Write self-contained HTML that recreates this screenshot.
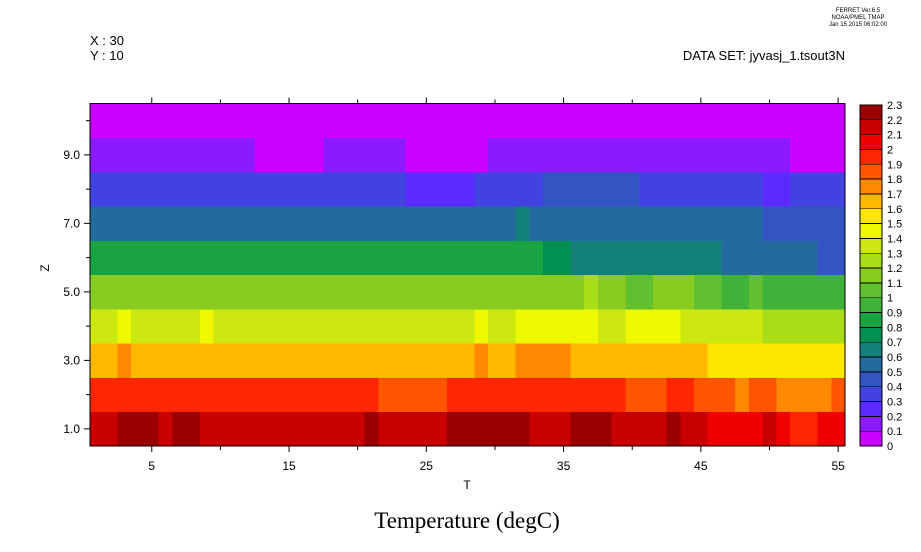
<!DOCTYPE html>
<html><head><meta charset="utf-8"><style>
html,body{margin:0;padding:0;background:#fff;}
svg{display:block;font-family:"Liberation Sans",sans-serif;}
</style></head><body>
<svg id="s" width="921" height="552" xmlns="http://www.w3.org/2000/svg">
<g id="cells" shape-rendering="crispEdges"></g>
<rect x="90" y="103.5" width="755" height="342.5" fill="none" stroke="#000" stroke-width="1"/>
<g id="ax" stroke="#000" stroke-width="1"></g>
<g id="lab" font-size="12" fill="#000"></g>
<g id="cb" shape-rendering="crispEdges"></g>
<text x="90" y="45" font-size="13">X : 30</text>
<text x="90" y="60" font-size="13">Y : 10</text>
<text x="845" y="60" font-size="13" text-anchor="end">DATA SET: jyvasj_1.tsout3N</text>
<text x="858" y="12" font-size="6" text-anchor="middle">FERRET  Ver.6.5</text>
<text x="858" y="19" font-size="6" text-anchor="middle">NOAA/PMEL TMAP</text>
<text x="858" y="26" font-size="6" text-anchor="middle">Jan 15 2015 06:02:00</text>
<text x="467" y="489" font-size="12" text-anchor="middle">T</text>
<text x="49" y="268" font-size="12" text-anchor="middle" transform="rotate(-90 49 268)">Z</text>
<text x="467" y="528" font-size="23" text-anchor="middle" font-family="Liberation Serif,serif">Temperature (degC)</text>
</svg>
<script>
const C=["#cc00ff","#8c1aff","#5a2aff","#4242e0","#3355c4","#246a9e","#14807a","#00904f","#1aa342","#40b23a","#60c030","#88cc22","#aadd18","#cce810","#eef800","#ffe600","#ffb800","#ff8800","#ff5500","#ff2600","#f00000","#c80000","#9a0000"];
const rows=[
[[2,21],[5,22],[6,21],[8,22],[20,21],[21,22],[26,21],[32,22],[35,21],[38,22],[42,21],[43,22],[45,21],[49,20],[50,21],[51,20],[53,19],[55,20]],
[[21,19],[26,18],[39,19],[42,18],[44,19],[47,18],[48,17],[50,18],[54,17],[55,18]],
[[2,16],[3,17],[28,16],[29,17],[31,16],[35,17],[45,16],[55,15]],
[[2,13],[3,14],[8,13],[9,14],[28,13],[29,14],[31,13],[37,14],[39,13],[43,14],[49,13],[55,12]],
[[36,11],[37,12],[39,11],[41,10],[44,11],[46,10],[48,9],[49,10],[55,9]],
[[33,8],[35,7],[46,6],[53,5],[55,4]],
[[31,5],[32,6],[49,5],[55,4]],
[[23,3],[28,2],[33,3],[40,4],[49,3],[51,2],[55,3]],
[[12,1],[17,0],[23,1],[29,0],[51,1],[55,0]],
[[55,0]]];
const NS="http://www.w3.org/2000/svg";
function el(p,t,a){const e=document.createElementNS(NS,t);for(const k in a)e.setAttribute(k,a[k]);p.appendChild(e);return e;}
const cells=document.getElementById("cells"),ax=document.getElementById("ax"),lab=document.getElementById("lab"),cb=document.getElementById("cb");
const x0=90,cw=755/55,yb=446,rh=342.5/10;
rows.forEach((r,ri)=>{let s=0;r.forEach(([e,c])=>{const xa=x0+s*cw,xb=x0+e*cw;el(cells,"rect",{x:xa.toFixed(2),y:(yb-(ri+1)*rh).toFixed(2),width:(xb-xa+0.3).toFixed(2),height:(rh+0.3).toFixed(2),fill:C[c]});s=e;});});
// x ticks
for(let t=5;t<=55;t+=5){const x=x0+(t-0.5)*cw;const maj=(t%10==5);const L=maj?6:4;
el(ax,"line",{x1:x,y1:446,x2:x,y2:446+L});el(ax,"line",{x1:x,y1:103.5,x2:x,y2:103.5-L});
if(maj){const tx=el(lab,"text",{x:x,y:470,"text-anchor":"middle"});tx.textContent=t;}}
for(let z=1;z<=10;z++){const y=yb-(z-0.5)*rh;const maj=z%2==1;const L=maj?6:4;
el(ax,"line",{x1:90-L,y1:y,x2:90,y2:y});
if(maj){const tx=el(lab,"text",{x:80,y:y+4,"text-anchor":"end"});tx.textContent=z.toFixed(1);}}
// colorbar
const cy0=105,cy1=446,bh=(cy1-cy0)/23;
for(let i=0;i<23;i++){el(cb,"rect",{x:860,y:(cy1-(i+1)*bh).toFixed(2),width:22,height:bh.toFixed(2),fill:C[i],stroke:"#000","stroke-width":0.8});}
for(let i=0;i<=23;i++){const v=i/10;let s=(Math.round(v*10)/10).toString();const tx=el(lab,"text",{x:887,y:(cy1-i*bh+4).toFixed(1),"font-size":11});tx.textContent=s;}
</script>
</body></html>
